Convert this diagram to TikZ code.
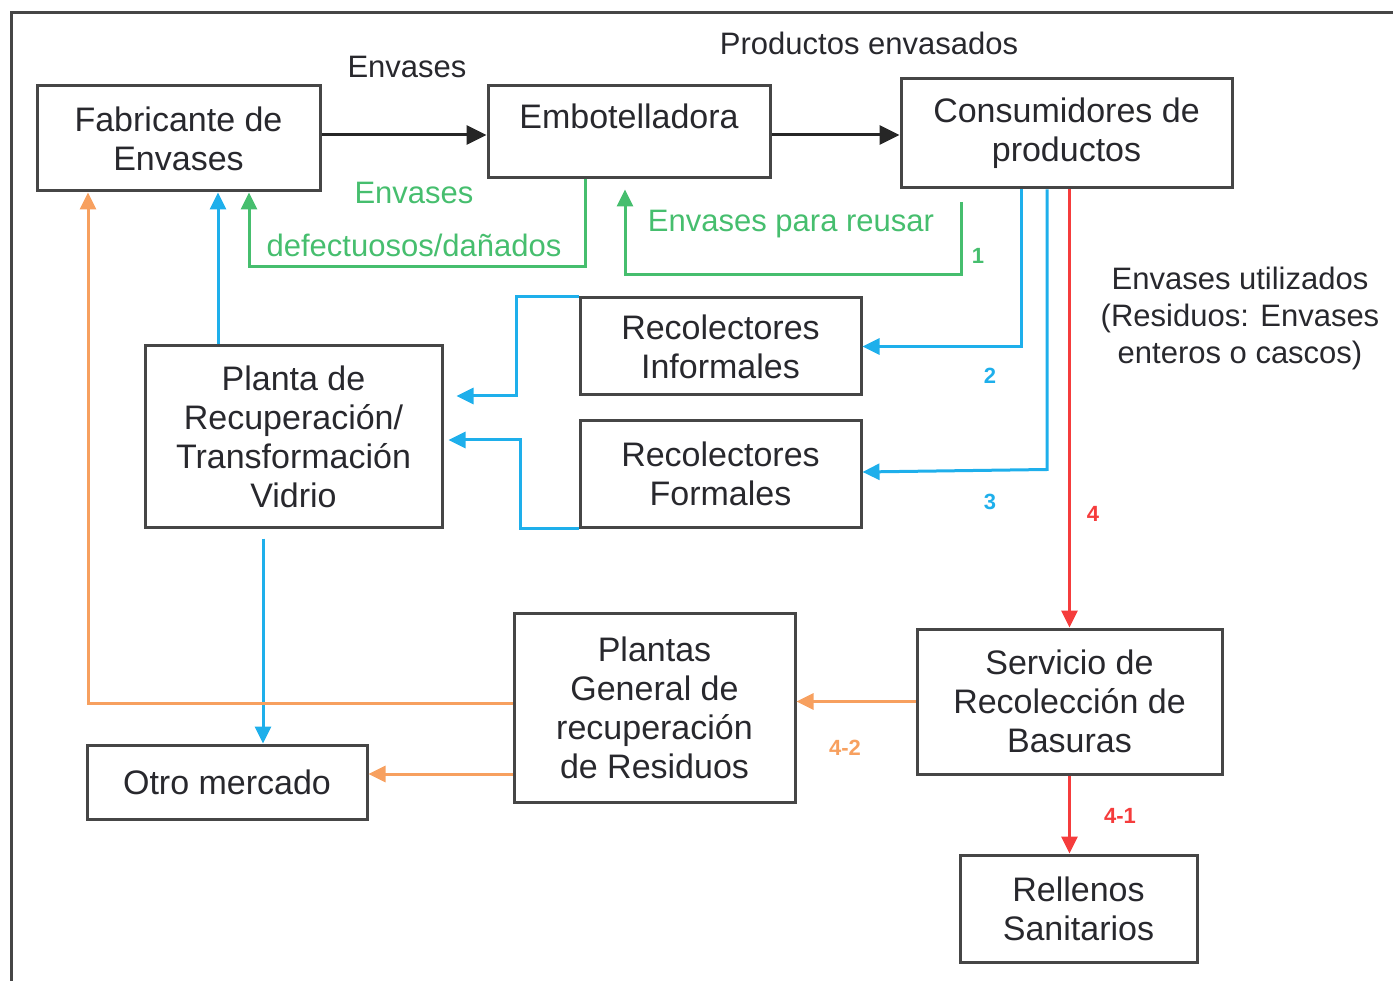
\documentclass[tikz,border=0pt]{standalone}
\usepackage{fontspec}
\setmainfont{Liberation Sans}
\usetikzlibrary{arrows.meta}
\definecolor{txt}{RGB}{40,40,45}
\definecolor{bord}{RGB}{70,70,70}
\definecolor{cgrn}{RGB}{70,190,110}
\definecolor{cblu}{RGB}{30,175,235}
\definecolor{corg}{RGB}{247,160,95}
\definecolor{cred}{RGB}{245,60,60}
\begin{document}
\begin{tikzpicture}[x=1pt,y=-1pt,
  box/.style={draw=bord,line width=3pt,inner sep=0pt,align=center,text=txt,
    font=\fontsize{34}{39}\selectfont},
  lbl/.style={text=txt,align=center,font=\fontsize{31}{37}\selectfont,inner sep=0pt},
  num/.style={font=\fontsize{22}{26}\selectfont\bfseries,inner sep=0pt},
  tip/.style={-{Triangle[length=17pt,width=16pt]}},
  blk/.style={-{Triangle[length=20pt,width=19pt]},draw=black!85,line width=3pt},
  grn/.style={tip,draw=cgrn,line width=3pt},
  blu/.style={tip,draw=cblu,line width=3pt},
  org/.style={tip,draw=corg,line width=3pt},
  rd/.style={tip,draw=cred,line width=3pt}]
\useasboundingbox (0,0) rectangle (1393,981);
\draw[bord,line width=3pt] (11,981) -- (11,13) -- (1393,13);

% boxes
\node[box,minimum width=283pt,minimum height=105pt] (fab) at (178.5,138.5) {Fabricante de\\Envases};
\node[box,text width=282pt,text height=43pt,text depth=49pt] (emb) at (629,132) {Embotelladora};
\node[box,minimum width=331pt,minimum height=109pt] (con) at (1066.5,133.5) {Consumidores de\\productos};
\node[box,minimum width=281pt,minimum height=97pt] (rinf) at (720.5,346.5) {Recolectores\\Informales};
\node[box,minimum width=281pt,minimum height=106pt] (rfor) at (720.5,474) {Recolectores\\Formales};
\node[box,minimum width=297pt,minimum height=181pt] (pla) at (293.5,436.5) {Planta de\\Recuperación/\\Transformación\\Vidrio};
\node[box,minimum width=280pt,minimum height=74pt] (otro) at (227,782) {Otro mercado};
\node[box,minimum width=281pt,minimum height=189pt] (pgen) at (654.5,707.5) {Plantas\\General de\\recuperación\\de Residuos};
\node[box,minimum width=305pt,minimum height=145pt] (serv) at (1069.5,701.5) {Servicio de\\Recolección de\\Basuras};
\node[box,minimum width=237pt,minimum height=107pt] (rell) at (1078.5,908.5) {Rellenos\\Sanitarios};

% black arrows
\draw[blk] ([yshift=-3pt]fab.east |- emb.west) -- ([yshift=-3pt]emb.west);
\draw[blk] ([yshift=-3pt]emb.east) -- ([yshift=-3pt]emb.east -| con.west);
\node[lbl] (lenv) at (407,67) {Envases};
\node[lbl] (lprod) at (869,43) {Productos envasados};

% green
\draw[grn] ([xshift=-44pt]emb.south) -- ++(0,87) -| ([xshift=70.5pt]fab.south);
\node[lbl,text=cgrn] (ldef1) at (414,193) {Envases};
\node[lbl,text=cgrn] (ldef2) at (414,245) {defectuosos/dañados};
\coordinate (g2s) at (961,202);
\draw[grn] (g2s) -- ++(0,73) -| ([xshift=-4pt,yshift=-10pt]emb.south);
\node[lbl,text=cgrn] (lreu) at (791,224) {Envases para reusar};
\node[num,text=cgrn] (n1) at (978,256) {1};

% blue
\draw[blu] ([xshift=-45.5pt]con.south) |- (rinf.east);
\node[num,text=cblu] (n2) at (990,376) {2};
\draw[blu] ([xshift=-19.5pt]con.south) -- ++(0,280) -- ([yshift=2pt]rfor.east);
\node[num,text=cblu] (n3) at (990,502) {3};
\draw[blu] (rinf.north west) -- ++(-62,0) |- ([xshift=13pt,yshift=40.5pt]pla.east);
\draw[blu] (rfor.south west) -- ++(-58,0) |- ([xshift=5pt,yshift=-3.5pt]pla.east);
\draw[blu] ([xshift=-75.5pt]pla.north) -- ([xshift=39.5pt]fab.south);
\draw[blu] ([xshift=-30.5pt,yshift=-10pt]pla.south) -- ([xshift=36pt]otro.north);

% red
\draw[rd] (serv.north |- con.south) -- (serv.north);
\node[num,text=cred] (n4) at (1093,514) {4};
\draw[rd] (serv.south) -- (serv.south |- rell.north);
\node[num,text=cred] (n41) at (1120,816) {4-1};
\node[lbl] (lutil) at (1240,318) {Envases utilizados\\(Residuos: Envases\\enteros o cascos)};

% orange
\draw[org] ([yshift=4.5pt]pgen.west) -| ([xshift=-90.5pt]fab.south);
\draw[org] ([yshift=-66.5pt]pgen.west) -- ([yshift=8pt]otro.east);
\draw[org] (serv.west) -- (serv.west -| pgen.east);
\node[num,text=corg] (n42) at (845,748) {4-2};
\end{tikzpicture}
\end{document}
